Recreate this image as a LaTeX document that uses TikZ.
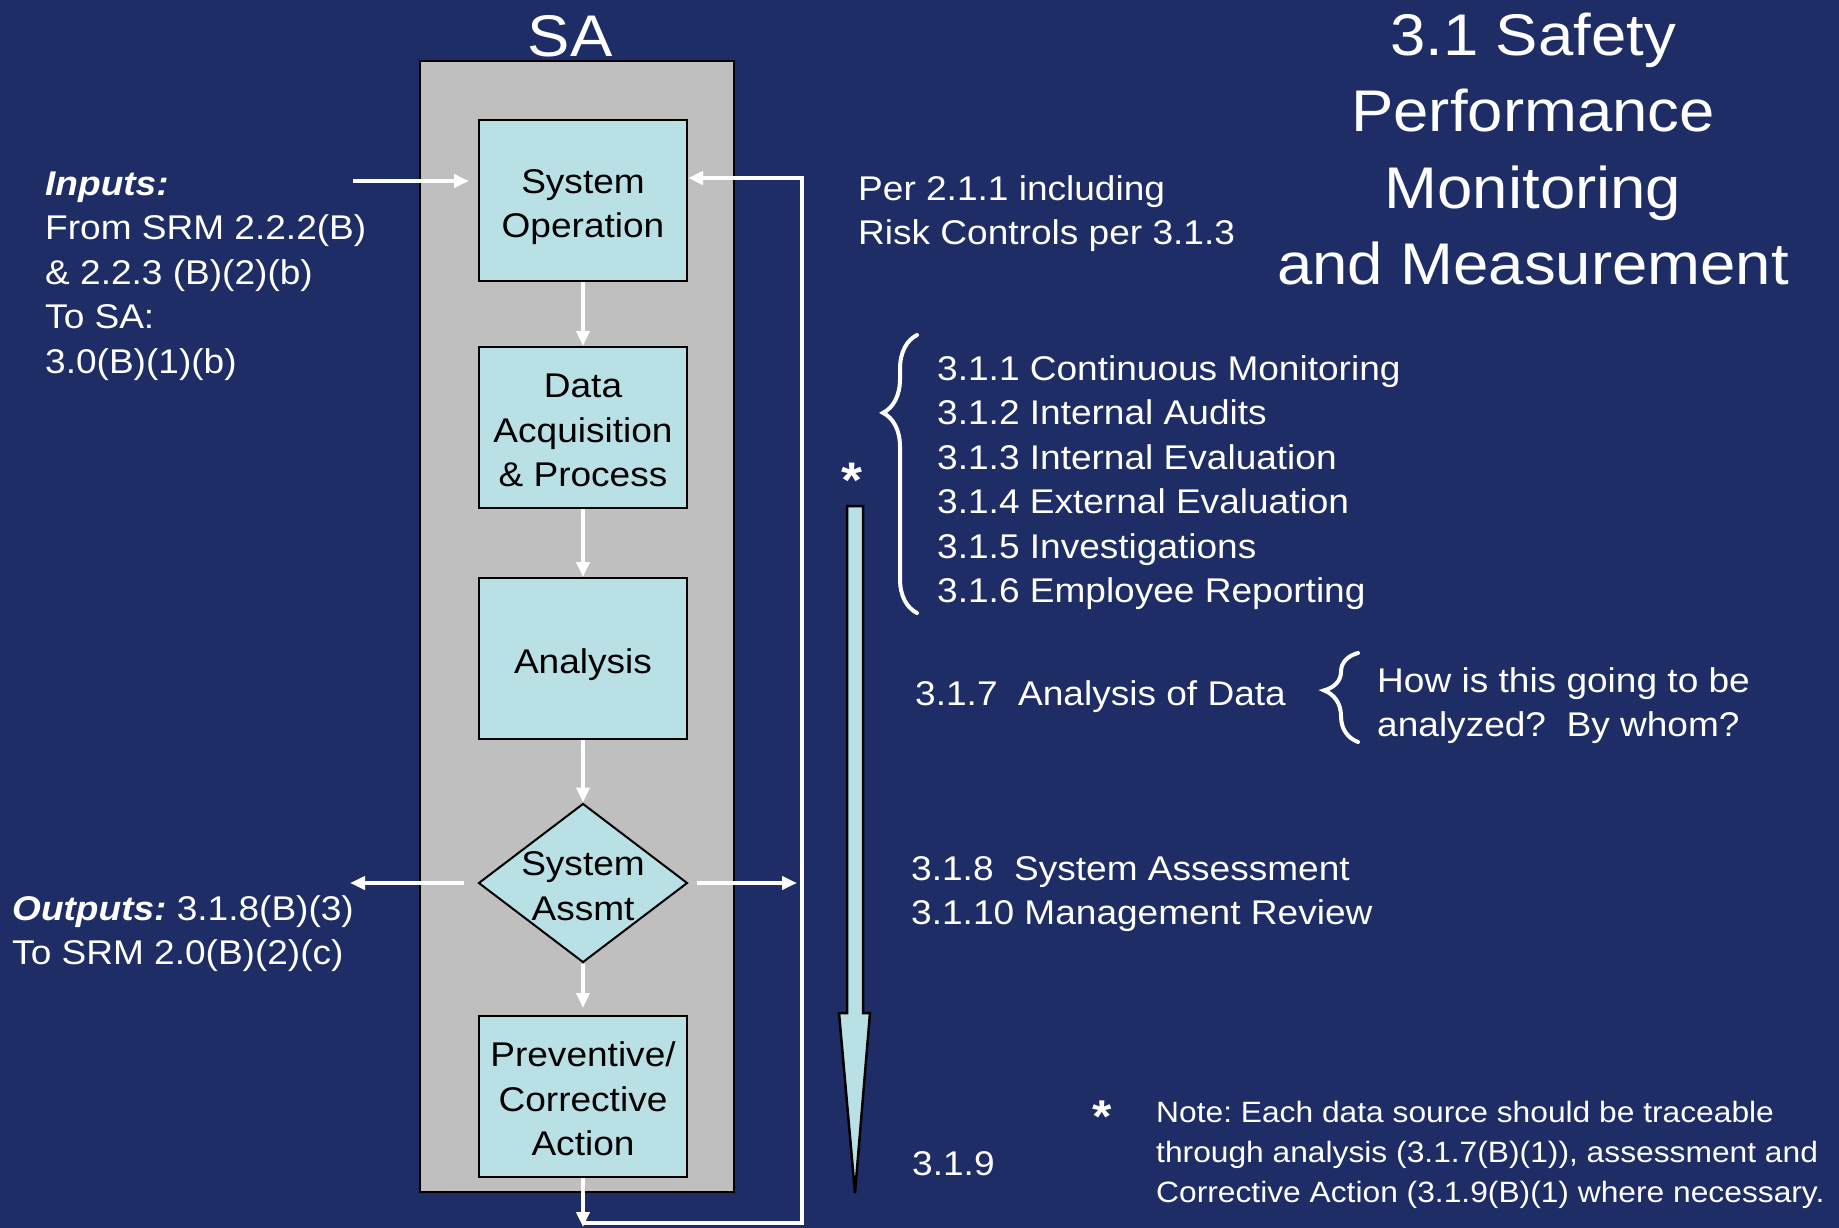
\documentclass[tikz,border=0pt]{standalone}
\usepackage{fontspec}
\setmainfont{Liberation Sans}[FakeStretch=1.08]
\usetikzlibrary{arrows.meta,shapes.geometric,decorations.pathreplacing}
\definecolor{bg}{RGB}{31,45,103}
\definecolor{boxblue}{RGB}{185,224,228}
\definecolor{panelgray}{RGB}{191,191,191}
\newcommand{\bodyfont}{\fontsize{34.3}{44.5}\selectfont}
\newcommand{\notefont}{\fontsize{29.4}{40}\selectfont}
\newcommand{\titlefnt}{\fontsize{58.8}{76.5}\selectfont}
\newcommand{\starfont}{\fontsize{50}{60}\selectfont\bfseries}
\newcommand{\boxlines}[1]{\raisebox{-6pt}[\height][\depth]{\begin{tabular}{@{}c@{}}#1\end{tabular}}}
\frenchspacing
\begin{document}
\frenchspacing
\begin{tikzpicture}[x=1pt,y=-1pt,
  wline/.style={draw=white, line width=4pt},
  arr/.style={wline, -{Triangle[length=15pt,width=13pt]}},
  stepbox/.style={draw=black, line width=2pt, fill=boxblue, minimum width=208pt, minimum height=161pt, inner sep=0pt, font=\bodyfont, text=black},
  decision/.style={diamond, draw=black, line width=2pt, fill=boxblue, minimum width=209pt, minimum height=159pt, inner sep=0pt},
  txt/.style={anchor=north west, inner sep=0pt, align=left, text=white, font=\bodyfont},
  btxt/.style={anchor=base west, inner sep=0pt, text=white, font=\bodyfont},
  bracewhite/.style={decorate, decoration={brace, amplitude=34pt, aspect=#1}, draw=white, line width=4pt, line cap=round},
  starmark/.style={anchor=base, inner sep=0pt, text=white, font=\starfont},
]
\fill[bg] (0,0) rectangle (1839,1228);
\useasboundingbox (0,0) rectangle (1839,1228);

% panel
\node[draw=black, line width=2.5pt, fill=panelgray, minimum width=314pt, minimum height=1131pt, inner sep=0pt] (panel) at (577,626.5) {};
\node[anchor=base, inner sep=0pt, text=white, font=\titlefnt] (sa) at (570,57) {SA};

% steps
\node[stepbox] (sysop) at (583,200.5) {\boxlines{System\\Operation}};
\node[stepbox] (data) at (583,427.5) {\boxlines{Data\\Acquisition\\\& Process}};
\node[stepbox] (anal) at (583,658.5) {\boxlines{Analysis}};
\node[decision, label={[font=\bodyfont, text=black, inner sep=0pt]center:\boxlines{System\\Assmt}}] (assmt) at (583,883) {};
\node[stepbox] (prev) at (583,1096.5) {\boxlines{Preventive/\\Corrective\\Action}};

% connectors
\draw[arr] (sysop) -- (data);
\draw[arr] (data) -- (anal);
\draw[arr] (anal) -- (assmt);
\draw[arr, shorten >=7pt] (assmt) -- (prev);

\coordinate (inStart) at (353,181);
\draw[arr, shorten >=9pt] (inStart) -- (inStart -| sysop.west);

\coordinate (outEnd) at (350,883);
\draw[arr, shorten <=14pt] (assmt.west) -- (outEnd);
\coordinate (rEnd) at (797,883);
\draw[arr, shorten <=8pt] (assmt.east) -- (rEnd);

\coordinate (fbTop) at (802,178);
\coordinate (fbBot) at (802,1223);
\draw[arr] (prev.south) -- ++(0,49);
\draw[arr] (prev.south |- fbBot) -- (fbBot) -- (fbTop) -- (fbTop -| sysop.east);

% big down arrow
\draw[draw=black, line width=2.5pt, fill=boxblue] (847,506) -- (863,506) -- (863,1013) -- (870,1013) -- (855,1193) -- (839,1013) -- (847,1013) -- cycle;
\node[starmark] (star1) at (852,497) {*};

% left texts
\node[txt] (inputs) at (45,163.85) {\strut\textbf{\textit{Inputs:}}\\From SRM 2.2.2(B)\\\& 2.2.3 (B)(2)(b)\\To SA:\\3.0(B)(1)(b)};
\node[txt] (outputs) at (12,888.85) {\strut\textbf{\textit{Outputs:}} 3.1.8(B)(3)\\To SRM 2.0(B)(2)(c)};

% right texts
\node[anchor=north, inner sep=0pt, align=center, text=white, font=\titlefnt] (title) at (1533,1.7) {\strut 3.1 Safety\\Performance\\Monitoring\\and Measurement};
\node[txt] (per) at (858,168.85) {\strut Per 2.1.1 including\\Risk Controls per 3.1.3};
\node[txt] (list) at (937,348.85) {\strut 3.1.1 Continuous Monitoring\\3.1.2 Internal Audits\\3.1.3 Internal Evaluation\\3.1.4 External Evaluation\\3.1.5 Investigations\\3.1.6 Employee Reporting};
\draw[bracewhite=0.72] (917,613) -- (917,335);
\node[btxt] (a317) at (915,705) {3.1.7~~Analysis of Data};
\draw[bracewhite=0.58] (1358,742) -- (1358,653);
\node[txt] (how) at (1377,660.85) {\strut How is this going to be\\analyzed?~~By whom?};
\node[txt] (a318) at (911,848.85) {\strut 3.1.8~~System Assessment\\3.1.10 Management Review};
\node[btxt] (a319) at (912,1175) {3.1.9};
\node[starmark, font=\fontsize{46}{50}\selectfont\bfseries] (star2) at (1102,1132) {*};
\node[txt, font=\notefont] (note) at (1156,1094) {\strut Note: Each data source should be traceable\\through analysis (3.1.7(B)(1)), assessment and\\Corrective Action (3.1.9(B)(1) where necessary.};
\end{tikzpicture}
\end{document}
